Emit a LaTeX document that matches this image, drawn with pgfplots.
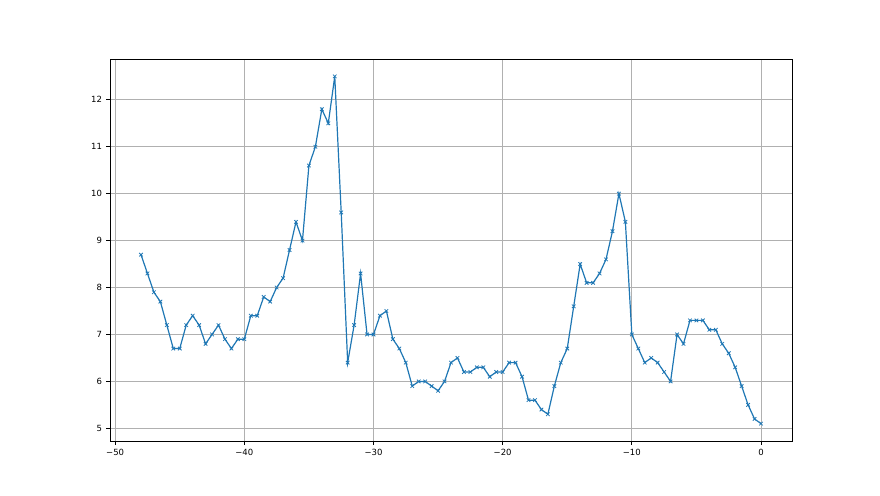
\documentclass[border=0pt]{standalone}
\usepackage{fontspec}
\setmainfont{DejaVu Sans}
\usepackage{pgfplots}
\pgfplotsset{compat=1.18}
\definecolor{mplblue}{HTML}{1F77B4}
\definecolor{gridgray}{HTML}{B0B0B0}
\begin{document}
\begin{tikzpicture}
\path (-110pt,-54pt) rectangle (770pt,441pt);
\begin{axis}[
    at={(0,0)}, anchor=south west,
    width=682pt, height=382pt, scale only axis,
    xmin=-50.4, xmax=2.4, ymin=4.73, ymax=12.87,
    xtick={-50,-40,-30,-20,-10,0},
    xticklabels={−50,−40,−30,−20,−10,0},
    ytick={5,6,...,12},
    /pgf/number format/assume math mode=true,
    tick label style={font=\fontsize{8.5}{10}\selectfont},
    tick pos=left, tick align=outside,
    major tick length=3.5pt,
    tick style={black, line width=0.8pt},
    axis line style={line width=0.8pt},
    grid=major,
    grid style={gridgray, line width=0.8pt},
    xticklabel style={yshift=-1pt},
    yticklabel style={xshift=-1pt},
]
\addplot[mplblue, line width=1.2pt, mark=x, mark size=2.5pt, mark options={line width=0.8pt}] coordinates {
(-48,8.7) (-47.5,8.3) (-47,7.9) (-46.5,7.7) (-46,7.2) (-45.5,6.7) (-45,6.7)
(-44.5,7.2) (-44,7.4) (-43.5,7.2) (-43,6.8) (-42.5,7.0) (-42,7.2) (-41.5,6.9)
(-41,6.7) (-40.5,6.9) (-40,6.9) (-39.5,7.4) (-39,7.4) (-38.5,7.8) (-38,7.7)
(-37.5,8.0) (-37,8.2) (-36.5,8.8) (-36,9.4) (-35.5,9.0) (-35,10.6) (-34.5,11.0)
(-34,11.8) (-33.5,11.5) (-33,12.5) (-32.5,9.6) (-32,6.4) (-31.5,7.2) (-31,8.3)
(-30.5,7.0) (-30,7.0) (-29.5,7.4) (-29,7.5) (-28.5,6.9) (-28,6.7) (-27.5,6.4)
(-27,5.9) (-26.5,6.0) (-26,6.0) (-25.5,5.9) (-25,5.8) (-24.5,6.0) (-24,6.4)
(-23.5,6.5) (-23,6.2) (-22.5,6.2) (-22,6.3) (-21.5,6.3) (-21,6.1) (-20.5,6.2)
(-20,6.2) (-19.5,6.4) (-19,6.4) (-18.5,6.1) (-18,5.6) (-17.5,5.6) (-17,5.4)
(-16.5,5.3) (-16,5.9) (-15.5,6.4) (-15,6.7) (-14.5,7.6) (-14,8.5) (-13.5,8.1)
(-13,8.1) (-12.5,8.3) (-12,8.6) (-11.5,9.2) (-11,10.0) (-10.5,9.4) (-10,7.0)
(-9.5,6.7) (-9,6.4) (-8.5,6.5) (-8,6.4) (-7.5,6.2) (-7,6.0) (-6.5,7.0)
(-6,6.8) (-5.5,7.3) (-5,7.3) (-4.5,7.3) (-4,7.1) (-3.5,7.1) (-3,6.8)
(-2.5,6.6) (-2,6.3) (-1.5,5.9) (-1,5.5) (-0.5,5.2) (0,5.1)
};
\end{axis}
\end{tikzpicture}
\end{document}
